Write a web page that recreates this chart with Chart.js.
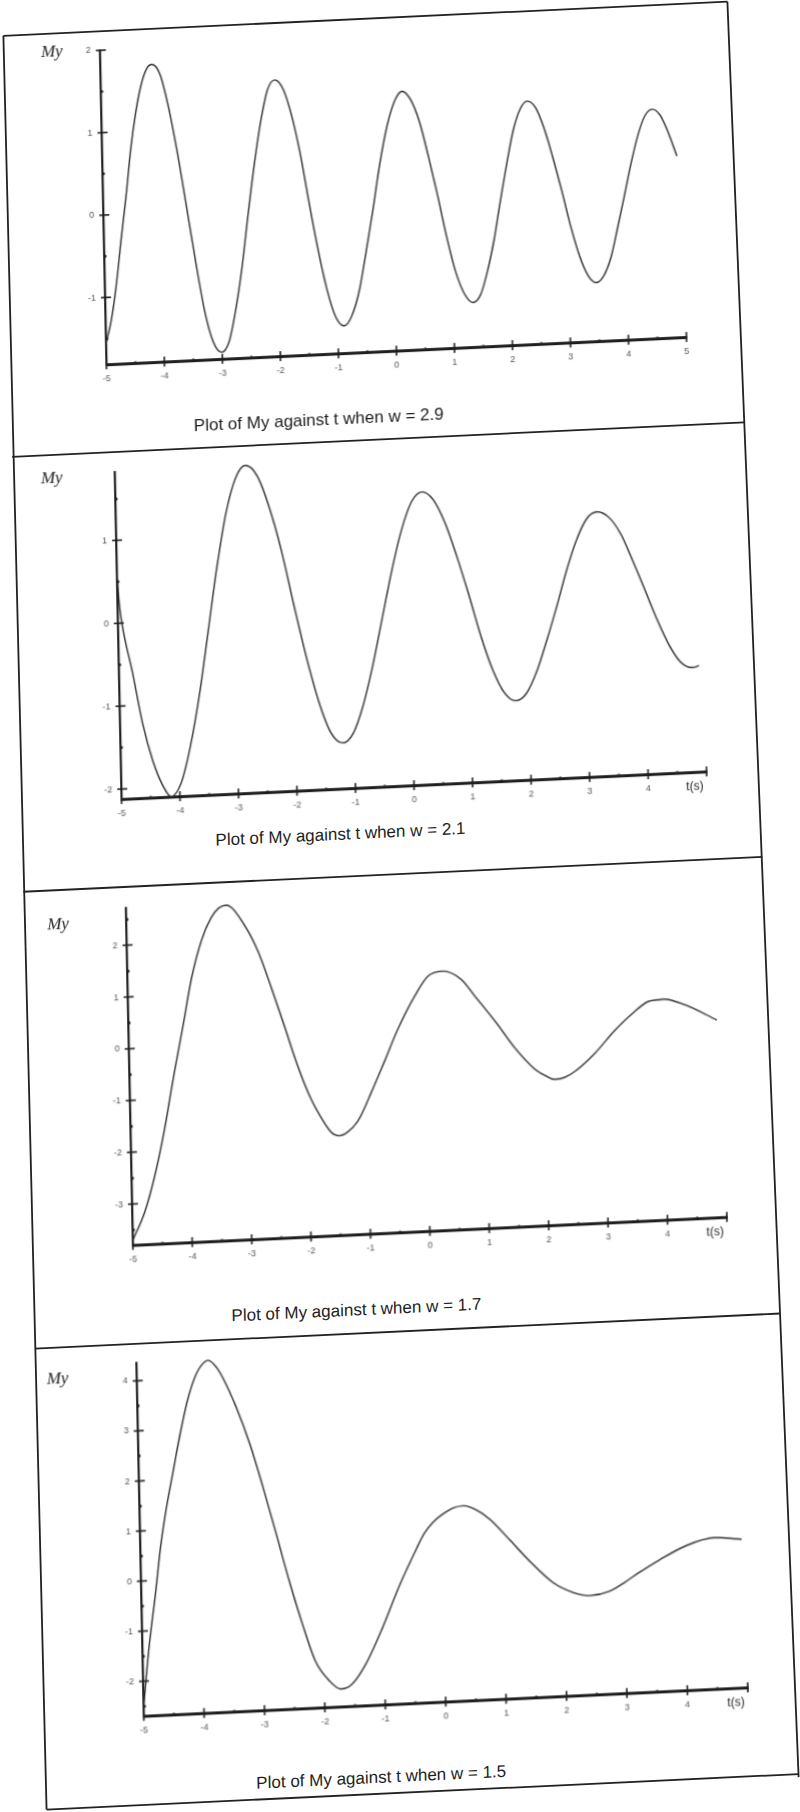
<!DOCTYPE html>
<html>
<head>
<meta charset="utf-8">
<script src="https://cdn.jsdelivr.net/npm/chart.js@4.4.1/dist/chart.umd.min.js"></script>
<style>
  html, body { margin: 0; padding: 0; background: #fff; }
  body { width: 800px; height: 1812px; overflow: hidden; position: relative; }
  #page { position: absolute; left: 0; top: 0; width: 800px; height: 1812px;
          transform-origin: 400px 906px; transform: skew(1.2deg, -2.7deg); }
  canvas { position: absolute; left: 0; }
  .caption { position: absolute; transform: translate(-50%, -50%); white-space: nowrap;
             font: 17px "Liberation Sans", Arial, sans-serif; color: #1e1e1e; }
  svg { position: absolute; left: 0; top: 0; }
</style>
</head>
<body>
<div id="page">
  <svg width="800" height="1812">
    <g stroke="#222" stroke-width="1.8" fill="none">
      <line x1="22" y1="18" x2="746" y2="18"/>
      <line x1="22" y1="18" x2="28" y2="1792"/>
      <line x1="746" y1="18" x2="780" y2="1795"/>
      <line x1="22" y1="439" x2="754" y2="439"/>
      <line x1="24" y1="874" x2="763" y2="874"/>
      <line x1="26" y1="1331" x2="771" y2="1331"/>
      <line x1="28" y1="1792" x2="780" y2="1792"/>
    </g>
  </svg>
  <canvas id="c1" width="800" height="390" style="top:20px"></canvas>
  <canvas id="c2" width="800" height="375" style="top:445px"></canvas>
  <canvas id="c3" width="800" height="400" style="top:880px"></canvas>
  <canvas id="c4" width="800" height="420" style="top:1336px"></canvas>
  <div class="caption" style="left:329px; top:417px">Plot of My against t when w = 2.9</div>
  <div class="caption" style="left:342px; top:832px">Plot of My against t when w = 2.1</div>
  <div class="caption" style="left:348px; top:1308px">Plot of My against t when w = 1.7</div>
  <div class="caption" style="left:363px; top:1776px">Plot of My against t when w = 1.5</div>
</div>
<script>
// w = 2.9
const t1 = [-5.00, -4.90, -4.80, -4.70, -4.60, -4.50, -4.40, -4.30, -4.20, -4.11,
  -3.97, -3.84, -3.70, -3.56, -3.42, -3.29, -3.15, -3.01,
  -2.88, -2.76, -2.63, -2.51, -2.38, -2.25, -2.13, -2.00,
  -1.86, -1.72, -1.58, -1.45, -1.31, -1.17, -1.03, -0.89,
  -0.76, -0.62, -0.49, -0.35, -0.22, -0.08, 0.06, 0.19,
  0.33, 0.48, 0.62, 0.77, 0.91, 1.05, 1.20, 1.34,
  1.47, 1.59, 1.72, 1.84, 1.97, 2.09, 2.22, 2.34,
  2.48, 2.62, 2.76, 2.91, 3.05, 3.19, 3.33, 3.47,
  3.60, 3.73, 3.85, 3.98, 4.11, 4.24, 4.36, 4.49,
  4.62, 4.75, 4.90];
const my1 = [-1.56, -1.28, -0.85, -0.30, 0.22, 0.80, 1.24, 1.56, 1.75, 1.80,
  1.67, 1.28, 0.71, 0.04, -0.64, -1.21, -1.60, -1.73,
  -1.61, -1.25, -0.72, -0.10, 0.53, 1.06, 1.42, 1.54,
  1.43, 1.10, 0.61, 0.03, -0.55, -1.04, -1.37, -1.48,
  -1.37, -1.07, -0.61, -0.08, 0.46, 0.92, 1.22, 1.33,
  1.23, 0.95, 0.53, 0.03, -0.47, -0.89, -1.17, -1.27,
  -1.18, -0.92, -0.53, -0.07, 0.40, 0.79, 1.05, 1.14,
  1.06, 0.81, 0.45, 0.02, -0.41, -0.77, -1.01, -1.10,
  -1.02, -0.80, -0.46, -0.07, 0.33, 0.67, 0.89, 0.97,
  0.90, 0.70, 0.39];

// w = 2.1
const t2 = [-5.00, -4.97, -4.92, -4.77, -4.61, -4.45, -4.29, -4.15,
  -3.98, -3.81, -3.63, -3.46, -3.29, -3.12, -2.94, -2.77,
  -2.57, -2.38, -2.18, -1.99, -1.79, -1.59, -1.40, -1.20,
  -1.02, -0.84, -0.66, -0.48, -0.30, -0.12, 0.06, 0.24,
  0.43, 0.62, 0.81, 1.01, 1.20, 1.39, 1.58, 1.77,
  1.95, 2.13, 2.31, 2.50, 2.68, 2.86, 3.04, 3.22,
  3.42, 3.62, 3.81, 4.01, 4.21, 4.41, 4.60, 4.80, 4.91];
const my2 = [0.62, 0.25, -0.05, -0.59, -1.23, -1.68, -1.98, -2.12,
  -1.97, -1.54, -0.90, -0.15, 0.61, 1.25, 1.68, 1.83,
  1.70, 1.33, 0.78, 0.13, -0.52, -1.07, -1.44, -1.57,
  -1.46, -1.13, -0.65, -0.08, 0.49, 0.97, 1.30, 1.41,
  1.31, 1.03, 0.62, 0.13, -0.37, -0.78, -1.06, -1.16,
  -1.08, -0.83, -0.47, -0.05, 0.38, 0.74, 0.99, 1.07,
  1.00, 0.79, 0.47, 0.11, -0.26, -0.58, -0.79, -0.86, -0.84];

// w = 1.7
const t3 = [-5.00, -4.79, -4.61, -4.43, -4.24, -4.08, -3.92, -3.74, -3.57, -3.44, -3.31,
  -3.01, -2.79, -2.58, -2.37, -2.16, -1.95, -1.73, -1.62, -1.50, -1.38, -1.17,
  -0.93, -0.70, -0.46, -0.17, 0.06, 0.31, 0.62, 0.84, 1.22, 1.49,
  1.82, 2.00, 2.15, 2.32, 2.50, 2.84, 3.18, 3.47, 3.76, 4.01, 4.37, 4.90];
const my3 = [-3.70, -3.17, -2.49, -1.61, -0.49, 0.39, 1.30, 2.02, 2.45, 2.63, 2.68,
  2.28, 1.76, 1.05, 0.28, -0.50, -1.14, -1.62, -1.80, -1.87, -1.83, -1.60,
  -1.05, -0.47, 0.15, 0.76, 1.13, 1.21, 1.03, 0.70, 0.12, -0.33,
  -0.76, -0.90, -0.98, -0.95, -0.84, -0.51, -0.09, 0.21, 0.44, 0.47, 0.34, 0.02];

// w = 1.5
const t4 = [-5.00, -4.89, -4.76, -4.66, -4.56, -4.43, -4.30, -4.17, -4.05, -3.93, -3.81,
  -3.68, -3.57, -3.36, -3.15, -2.95, -2.75, -2.54, -2.34, -2.14, -1.92, -1.73,
  -1.54, -1.31, -1.02, -0.72, -0.43, -0.30, -0.15, 0.00, 0.20, 0.36,
  0.55, 0.79, 1.12, 1.44, 1.82, 2.14, 2.42, 2.75, 3.00, 3.25, 3.59, 4.04, 4.49, 4.95];
const my4 = [-2.53, -1.35, -0.24, 0.68, 1.39, 2.15, 2.90, 3.55, 3.98, 4.24, 4.34,
  4.20, 3.97, 3.37, 2.63, 1.77, 0.84, -0.16, -1.02, -1.76, -2.16, -2.34,
  -2.25, -1.87, -1.16, -0.32, 0.39, 0.68, 0.90, 1.04, 1.17, 1.20,
  1.12, 0.91, 0.47, 0.03, -0.42, -0.63, -0.71, -0.64, -0.48, -0.29, -0.06, 0.20, 0.33, 0.27];

const panels = [
  { id: 'c1', t: t1, my: my1, yMin: -1.81, yMax: 2.0, tLabel: false, myDx: -48, myDy: 0,
    pad: { left: 88, right: 102, top: 17, bottom: 37 } },
  { id: 'c2', t: t2, my: my2, yMin: -2.12, yMax: 1.82, tLabel: true, myDx: -63, myDy: 3,
    pad: { left: 94, right: 91, top: 10, bottom: 12 } },
  { id: 'c3', t: t3, my: my3, yMin: -3.79, yMax: 2.72, tLabel: true, myDx: -68, myDy: 14,
    pad: { left: 96, right: 80, top: 15, bottom: 26 } },
  { id: 'c4', t: t4, my: my4, yMin: -2.69, yMax: 4.35, tLabel: true, myDx: -79, myDy: 12,
    pad: { left: 97, right: 69, top: 11, bottom: 31 } }
];

function halfTicks(scale) {
  const out = [];
  for (let v = Math.ceil(scale.min * 2) / 2; v <= scale.max + 1e-9; v += 0.5) out.push({ value: v });
  scale.ticks = out;
}

// tick marks crossing the axes, plus the My and t(s) labels
const decor = {
  id: 'decor',
  afterDraw(chart, args, o) {
    const { ctx, chartArea: a, scales: { x, y } } = chart;
    ctx.save();
    ctx.strokeStyle = '#1e1e1e';
    ctx.fillStyle = '#1e1e1e';
    x.ticks.forEach(tk => {
      const px = x.getPixelForValue(tk.value);
      if (Number.isInteger(tk.value)) {
        ctx.lineWidth = 1.6;
        ctx.beginPath(); ctx.moveTo(px, a.bottom - 5); ctx.lineTo(px, a.bottom + 5); ctx.stroke();
      } else {
        ctx.beginPath(); ctx.arc(px, a.bottom, 1.7, 0, Math.PI * 2); ctx.fill();
      }
    });
    y.ticks.forEach(tk => {
      const py = y.getPixelForValue(tk.value);
      if (Number.isInteger(tk.value)) {
        ctx.lineWidth = 1.6;
        ctx.beginPath(); ctx.moveTo(a.left - 4, py); ctx.lineTo(a.left + 6, py); ctx.stroke();
      } else {
        ctx.beginPath(); ctx.arc(a.left + 1, py, 1.5, 0, Math.PI * 2); ctx.fill();
      }
    });
    ctx.textAlign = 'center';
    ctx.textBaseline = 'middle';
    ctx.font = 'italic 17px "Liberation Serif", serif';
    ctx.fillText('My', a.left + o.myDx, a.top + o.myDy);
    if (o.tLabel) {
      ctx.font = '12px "Liberation Sans", Arial, sans-serif';
      ctx.fillText('t(s)', a.right - 12, a.bottom + 15);
    }
    ctx.restore();
  }
};

panels.forEach(p => {
  const points = p.t.map((t, i) => ({ x: t, y: p.my[i] }));
  new Chart(document.getElementById(p.id), {
    type: 'line',
    data: {
      datasets: [{
        data: points,
        borderColor: '#2a2a2a',
        borderWidth: 1.4,
        pointRadius: 0,
        cubicInterpolationMode: 'monotone',
        fill: false,
        clip: 6
      }]
    },
    options: {
      responsive: false,
      animation: false,
      devicePixelRatio: 1,
      layout: { padding: p.pad },
      plugins: {
        legend: { display: false },
        tooltip: { enabled: false },
        decor: { myDx: p.myDx, myDy: p.myDy, tLabel: p.tLabel }
      },
      scales: {
        x: {
          type: 'linear',
          min: -5,
          max: 5,
          afterBuildTicks: halfTicks,
          afterFit: s => { s.height = 22; },
          grid: { display: false, drawTicks: false },
          border: { display: true, color: '#1e1e1e', width: 3 },
          ticks: {
            autoSkip: false,
            maxRotation: 0,
            padding: 9,
            color: '#555',
            font: { size: 9, family: '"Liberation Sans", Arial, sans-serif' },
            callback: v => (Number.isInteger(v) && !(p.tLabel && v === 5)) ? String(v) : ''
          }
        },
        y: {
          type: 'linear',
          min: p.yMin,
          max: p.yMax,
          afterBuildTicks: halfTicks,
          afterFit: s => { s.width = 30; },
          grid: { display: false, drawTicks: false },
          border: { display: true, color: '#1e1e1e', width: 2.2 },
          ticks: {
            autoSkip: false,
            padding: 9,
            color: '#555',
            font: { size: 9, family: '"Liberation Sans", Arial, sans-serif' },
            callback: v => Number.isInteger(v) ? String(v) : ''
          }
        }
      }
    },
    plugins: [decor]
  });
});
</script>
</body>
</html>
